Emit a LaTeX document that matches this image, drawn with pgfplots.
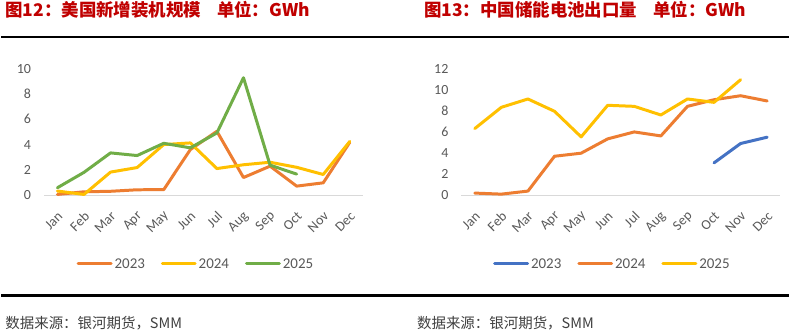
\documentclass[border=0pt]{standalone}
\usepackage{pgfplots}
\pgfplotsset{compat=1.18}
\usepackage{fontspec}
\setmainfont{Carlito}
\newfontfamily\cjk{Noto Sans CJK SC}
\definecolor{c23}{HTML}{ED7D31}
\definecolor{c24}{HTML}{FFC000}
\definecolor{c25}{HTML}{70AD47}
\definecolor{cblue}{HTML}{4472C4}
\definecolor{tickgrey}{HTML}{595959}
\definecolor{basegrey}{HTML}{D9D9D9}
\definecolor{titlered}{HTML}{C00000}
\definecolor{srcgrey}{HTML}{404040}
\pgfplotsset{
  mystyle/.style={
    scale only axis, width=320pt, height=126.7pt,
    anchor=south west, clip=false,
    axis line style={draw=none},
    xmin=-0.5, xmax=11.5, ymin=0,
    xtick={0,...,11},
    xticklabels={Jan,Feb,Mar,Apr,May,Jun,Jul,Aug,Sep,Oct,Nov,Dec},
    major tick length=0pt,
    tick style={draw=none},
    /pgf/number format/assume math mode=true,
    tick label style={font=\fontsize{14}{14}\selectfont, text=tickgrey},
    yticklabel style={anchor=east, inner sep=0pt, xshift=-13pt},
    xticklabel style={inner sep=0pt, xshift=3pt, yshift=-19pt, rotate=45, anchor=east},
    every axis plot/.append style={line width=3pt, line join=round, line cap=round, mark=none},
    legend columns=3,
    legend image code/.code={\draw[line width=3pt] (0pt,0pt) -- (33pt,0pt);},
    legend style={draw=none, fill=none, anchor=center, font=\fontsize{15}{15}\selectfont, text=tickgrey,
      /tikz/every even column/.append style={column sep=14pt}},
  }
}
\begin{document}
\begin{tikzpicture}
\fill[white] (0pt,0pt) rectangle (790pt,334pt);
% rules
\draw[black, line width=2pt] (0pt,296.7pt) -- (790pt,296.7pt);
\draw[black, line width=2.5pt] (0pt,37.7pt) -- (790pt,37.7pt);
% titles
\node[anchor=west, inner sep=0pt, font=\cjk\bfseries\fontsize{17.5}{17.5}\selectfont, text=titlered] at (4pt,324pt) {图12：美国新增装机规模\hspace{16pt}单位：GWh};
\node[anchor=west, inner sep=0pt, font=\cjk\bfseries\fontsize{17.5}{17.5}\selectfont, text=titlered] at (424pt,324pt) {图13：中国储能电池出口量\hspace{16pt}单位：GWh};
% sources
\node[anchor=west, inner sep=0pt, font=\cjk\fontsize{14.5}{14.5}\selectfont, text=srcgrey] at (4pt,10pt) {数据来源：银河期货，SMM};
\node[anchor=west, inner sep=0pt, font=\cjk\fontsize{14.5}{14.5}\selectfont, text=srcgrey] at (417pt,10pt) {数据来源：银河期货，SMM};

\begin{axis}[mystyle, at={(43pt,138.3pt)}, ymax=10, ytick={0,2,4,6,8,10},
  legend style={at={(axis description cs:0.476,-0.545)}}]
\draw[basegrey, line width=1pt] (axis cs:-0.5,0) -- (axis cs:11.5,0);
\addplot[c23] coordinates {(0,0.05) (1,0.26) (2,0.3) (3,0.42) (4,0.43) (5,3.6) (6,5.05) (7,1.39) (8,2.29) (9,0.71) (10,0.97) (11,4.18)};
\addplot[c24] coordinates {(0,0.32) (1,0.05) (2,1.82) (3,2.18) (4,4.0) (5,4.13) (6,2.1) (7,2.4) (8,2.6) (9,2.2) (10,1.63) (11,4.25)};
\addplot[c25] coordinates {(0,0.58) (1,1.8) (2,3.34) (3,3.13) (4,4.1) (5,3.74) (6,4.92) (7,9.29) (8,2.37) (9,1.66)};
\legend{2023,2024,2025}
\end{axis}

\begin{axis}[mystyle, at={(461.7pt,138.3pt)}, ymax=12, ytick={0,2,4,6,8,10,12},
  legend style={at={(axis description cs:0.473,-0.545)}}]
\draw[basegrey, line width=1pt] (axis cs:-0.5,0) -- (axis cs:11.5,0);
\addplot[cblue] coordinates {(9,3.06) (10,4.9) (11,5.5)};
\addplot[c23] coordinates {(0,0.19) (1,0.09) (2,0.38) (3,3.69) (4,3.98) (5,5.34) (6,6.0) (7,5.62) (8,8.43) (9,9.06) (10,9.44) (11,8.94)};
\addplot[c24] coordinates {(0,6.32) (1,8.34) (2,9.13) (3,7.96) (4,5.53) (5,8.53) (6,8.43) (7,7.61) (8,9.13) (9,8.81) (10,10.96)};
\legend{2023,2024,2025}
\end{axis}
\end{tikzpicture}
\end{document}
